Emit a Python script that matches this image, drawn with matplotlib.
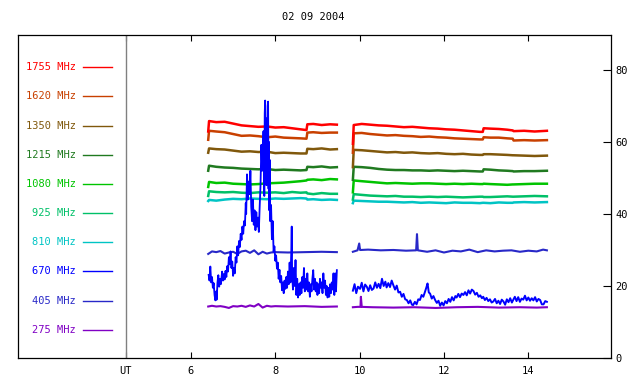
import matplotlib
matplotlib.use('Agg')
import matplotlib.pyplot as plt

plt.rcParams['font.family'] = 'DejaVu Sans Mono'
plt.rcParams['font.size'] = 7.5

# channel labels and colours (top to bottom in the key)
freqs = ['1755 MHz', '1620 MHz', '1350 MHz', '1215 MHz', '1080 MHz',
         '925 MHz', '810 MHz', '670 MHz', '405 MHz', '275 MHz']
colors = ['#ff0000', '#c84000', '#80580c', '#207a20', '#00c400',
          '#00c068', '#00c4c4', '#0000ff', '#2828c8', '#8000c4']

# UT hours, two observing blocks
t_left = [6.41, 6.43, 6.6, 6.8, 7.0, 7.2, 7.4, 7.6, 7.8, 8.0, 8.2, 8.4, 8.6,
          8.74, 8.76, 8.9, 9.1, 9.3, 9.46]
t_right = [9.84, 9.86, 10.05, 10.25, 10.45, 10.65, 10.85, 11.05, 11.25, 11.45,
           11.65, 11.85, 12.05, 12.25, 12.45, 12.65, 12.85, 12.92, 12.94, 13.1,
           13.3, 13.5, 13.63, 13.65, 13.9, 14.15, 14.44]

f1755_l = [62.9, 65.8, 65.5, 65.6, 65.1, 64.6, 64.4, 64.2, 64.3, 64.0, 64.1, 63.8, 63.5, 63.3, 64.9, 65.0, 64.7, 64.9, 64.8]
f1620_l = [60.6, 63.1, 62.9, 62.7, 62.2, 61.7, 61.8, 61.6, 61.3, 61.5, 61.2, 61.1, 61.0, 60.9, 62.6, 62.7, 62.5, 62.6, 62.6]
f1350_l = [57.0, 58.2, 58.0, 57.9, 57.6, 57.3, 57.4, 57.2, 57.3, 56.9, 57.0, 56.9, 56.8, 56.8, 58.1, 58.0, 58.2, 57.9, 58.0]
f1215_l = [52.0, 53.4, 53.1, 52.9, 52.8, 52.6, 52.5, 52.4, 52.5, 52.2, 52.3, 52.2, 52.1, 52.2, 53.1, 53.0, 53.2, 52.9, 53.0]
f1080_l = [47.5, 48.9, 48.6, 48.7, 48.4, 48.3, 48.2, 48.3, 48.5, 48.6, 48.7, 48.9, 49.1, 49.3, 49.5, 49.6, 49.4, 49.7, 49.6]
f925_l = [45.0, 46.3, 46.1, 46.0, 46.1, 45.9, 45.8, 46.0, 45.9, 46.0, 45.8, 46.1, 45.9, 46.0, 45.7, 45.5, 45.8, 45.6, 45.6]
f810_l = [43.6, 43.9, 43.7, 44.0, 44.2, 44.1, 44.3, 44.2, 44.1, 44.3, 44.2, 44.3, 44.4, 44.3, 44.0, 44.1, 43.9, 44.0, 43.9]

f1755_r = [59.5, 64.7, 65.0, 64.8, 64.6, 64.5, 64.3, 64.1, 64.2, 64.0, 63.8, 63.7, 63.5, 63.4, 63.2, 63.0, 62.8, 62.8, 63.8, 63.7, 63.6, 63.4, 63.2, 63.0, 63.1, 62.9, 63.1]
f1620_r = [57.0, 62.4, 62.5, 62.2, 62.0, 61.8, 61.9, 61.7, 61.6, 61.4, 61.5, 61.3, 61.2, 61.0, 60.9, 60.8, 60.7, 60.7, 61.3, 61.2, 61.2, 61.0, 60.9, 60.4, 60.5, 60.4, 60.5]
f1350_r = [53.0, 57.8, 57.7, 57.5, 57.3, 57.1, 57.2, 57.0, 57.1, 56.9, 56.8, 56.9, 56.7, 56.6, 56.7, 56.5, 56.4, 56.4, 56.6, 56.6, 56.5, 56.4, 56.3, 56.3, 56.2, 56.1, 56.2]
f1215_r = [49.5, 53.1, 53.0, 52.8, 52.5, 52.3, 52.2, 52.2, 52.1, 52.1, 52.0, 52.1, 52.0, 51.9, 52.0, 51.9, 51.8, 51.8, 52.4, 52.3, 52.1, 52.0, 51.9, 51.8, 51.9, 51.9, 52.0]
f1080_r = [46.0, 49.3, 49.1, 48.9, 48.7, 48.5, 48.6, 48.5, 48.4, 48.5, 48.5, 48.4, 48.3, 48.4, 48.3, 48.4, 48.3, 48.3, 48.4, 48.3, 48.2, 48.1, 48.2, 48.2, 48.3, 48.4, 48.4]
f925_r = [44.0, 45.5, 45.3, 45.1, 45.0, 44.9, 45.0, 44.8, 44.8, 44.7, 44.8, 44.7, 44.8, 44.7, 44.6, 44.7, 44.8, 44.8, 44.7, 44.7, 44.8, 44.9, 44.8, 44.8, 44.9, 45.0, 44.9]
f810_r = [43.0, 43.7, 43.6, 43.5, 43.4, 43.4, 43.3, 43.2, 43.3, 43.1, 43.2, 43.1, 43.0, 43.2, 43.1, 43.1, 43.0, 43.1, 43.1, 43.0, 43.2, 43.1, 43.1, 43.2, 43.3, 43.2, 43.3]

# 405 / 275 MHz
t_low_l = [6.41, 6.5, 6.6, 6.7, 6.8, 6.9, 7.0, 7.1, 7.2, 7.3, 7.4, 7.5, 7.6, 7.7,
           7.8, 7.9, 8.0, 8.3, 8.7, 9.1, 9.46]
f405_l = [28.9, 29.6, 29.4, 29.7, 29.0, 29.3, 29.5, 28.9, 29.6, 29.8, 29.2, 29.9,
          28.8, 29.5, 29.0, 29.3, 29.4, 29.3, 29.4, 29.5, 29.4]
f275_l = [14.3, 14.5, 14.3, 14.4, 14.2, 13.9, 14.4, 14.3, 14.5, 14.2, 14.6, 14.3,
          15.0, 14.0, 14.5, 14.3, 14.4, 14.3, 14.4, 14.2, 14.3]

t405_r = [9.84, 9.95, 9.99, 10.01, 10.03, 10.2, 10.5, 10.8, 11.1, 11.34, 11.36, 11.38,
          11.6, 11.8, 12.0, 12.2, 12.4, 12.6, 12.8, 13.0, 13.2, 13.4, 13.6, 13.8,
          14.0, 14.2, 14.35, 14.44]
f405_r = [29.5, 29.9, 31.8, 30.0, 30.0, 30.1, 29.9, 30.0, 29.8, 29.9, 34.4, 29.9,
          29.5, 29.9, 29.3, 29.8, 29.6, 30.1, 29.4, 29.9, 29.6, 29.8, 29.9, 29.5,
          29.8, 29.6, 30.1, 29.9]
t275_r = [9.84, 9.95, 10.02, 10.03, 10.05, 10.3, 10.8, 11.3, 11.8, 12.3, 12.8, 13.3,
          13.8, 14.2, 14.44]
f275_r = [14.1, 14.2, 14.2, 17.0, 14.2, 14.1, 14.0, 14.1, 13.9, 14.1, 14.2, 14.0,
          14.1, 14.0, 14.1]

# 670 MHz burst
t670_l = [6.42, 6.44, 6.46, 6.48, 6.50, 6.52, 6.54, 6.56, 6.58, 6.60, 6.61, 6.63,
          6.65, 6.67, 6.69, 6.71, 6.74, 6.76, 6.78, 6.80, 6.82, 6.84, 6.86, 6.88,
          6.90, 6.92, 6.94, 6.96, 6.98, 7.00, 7.02, 7.04, 7.06, 7.08, 7.10, 7.12,
          7.14, 7.16, 7.18, 7.20, 7.22, 7.24, 7.26, 7.28, 7.30, 7.31, 7.33, 7.35,
          7.37, 7.39, 7.41, 7.43, 7.45, 7.47, 7.49, 7.51, 7.53, 7.55, 7.57, 7.59,
          7.61, 7.63, 7.65, 7.67, 7.69, 7.71, 7.72, 7.74, 7.75, 7.76, 7.77, 7.78,
          7.79, 7.80, 7.81, 7.82, 7.83, 7.84, 7.85, 7.86, 7.87, 7.88, 7.90, 7.92,
          7.94, 7.96, 7.98, 8.00, 8.02, 8.04, 8.06, 8.08, 8.10, 8.12, 8.14, 8.16,
          8.18, 8.20, 8.22, 8.24, 8.26, 8.28, 8.30, 8.32, 8.34, 8.36, 8.38, 8.39,
          8.40, 8.42, 8.44, 8.46, 8.48, 8.50, 8.52, 8.54, 8.56, 8.58, 8.60, 8.62,
          8.64, 8.66, 8.68, 8.70, 8.72, 8.74, 8.76, 8.78, 8.80, 8.82, 8.84, 8.86,
          8.88, 8.90, 8.92, 8.94, 8.96, 8.98, 9.00, 9.02, 9.04, 9.06, 9.08, 9.10,
          9.12, 9.14, 9.16, 9.18, 9.20, 9.22, 9.24, 9.26, 9.28, 9.30, 9.32, 9.34,
          9.36, 9.38, 9.40, 9.42, 9.44, 9.46]
f670_l = [23.1, 21.5, 25.4, 21.0, 22.5, 19.5, 20.8, 17.5, 16.0, 18.5, 16.2, 21.0,
          23.0, 19.8, 22.0, 20.5, 24.0, 21.5, 23.3, 21.8, 24.2, 22.5, 25.5, 24.0,
          28.0, 26.0, 29.6, 25.0, 26.8, 22.8, 25.0, 23.5, 28.0, 26.5, 31.0, 28.5,
          32.5, 30.8, 34.5, 32.8, 36.5, 34.5, 38.0, 36.8, 43.0, 40.0, 51.0, 44.0,
          49.0, 45.5, 52.0, 42.0, 38.0, 44.0, 37.0, 41.0, 35.5, 40.5, 36.5, 39.0,
          35.0, 42.0, 48.0, 59.2, 52.0, 58.5, 63.0, 45.0, 68.0, 71.5, 55.0, 66.6,
          48.0, 64.0, 52.0, 70.0, 71.2, 47.0, 60.0, 41.0, 55.0, 38.0, 42.5, 33.0,
          38.0, 29.5, 31.0, 27.0, 28.5, 24.8, 26.5, 22.0, 24.5, 21.0, 22.8, 18.8,
          21.0, 18.0, 21.5, 19.2, 22.5, 19.5, 24.0, 20.5, 26.5, 21.0, 30.0, 36.5,
          23.0, 19.0, 25.0, 20.0, 27.2, 17.5, 22.0, 16.8, 20.5, 17.5, 21.0, 18.0,
          22.5, 19.5, 25.0, 18.5, 22.0, 19.0, 23.5, 18.5, 21.0, 17.0, 20.5, 18.5,
          22.0, 24.4, 19.0, 22.0, 18.5, 21.0, 17.5, 20.5, 18.0, 22.0, 19.5, 21.0,
          18.0, 23.5, 19.5, 21.5, 17.5, 20.0, 16.8, 19.5, 17.0, 20.5, 18.0, 21.0,
          19.0, 23.5, 17.5, 23.5, 18.5, 24.4]

t670_r = [9.84, 9.88, 9.92, 9.96, 10.01, 10.05, 10.09, 10.13, 10.17, 10.21, 10.25,
          10.29, 10.33, 10.37, 10.41, 10.45, 10.49, 10.53, 10.57, 10.61, 10.64, 10.68,
          10.72, 10.76, 10.80, 10.84, 10.88, 10.92, 10.96, 11.00, 11.04, 11.08, 11.12,
          11.16, 11.20, 11.24, 11.27, 11.31, 11.35, 11.39, 11.43, 11.47, 11.51, 11.55,
          11.58, 11.61, 11.64, 11.67, 11.71, 11.75, 11.79, 11.83, 11.87, 11.91, 11.95,
          11.99, 12.03, 12.07, 12.11, 12.15, 12.19, 12.23, 12.27, 12.30, 12.34, 12.38,
          12.42, 12.46, 12.50, 12.54, 12.58, 12.62, 12.66, 12.70, 12.74, 12.78, 12.82,
          12.86, 12.90, 12.93, 12.97, 13.01, 13.05, 13.09, 13.13, 13.17, 13.21, 13.25,
          13.29, 13.33, 13.37, 13.41, 13.45, 13.49, 13.53, 13.57, 13.61, 13.64, 13.68,
          13.72, 13.76, 13.80, 13.84, 13.88, 13.92, 13.96, 14.00, 14.04, 14.08, 14.12,
          14.16, 14.20, 14.24, 14.28, 14.32, 14.36, 14.40, 14.44]
f670_r = [18.7, 20.5, 18.0, 19.8, 19.2, 20.9, 18.5, 20.4, 19.8, 18.6, 20.2,
          18.9, 19.3, 21.0, 19.5, 20.6, 19.4, 22.0, 20.0, 21.2, 19.6, 20.8,
          19.7, 21.5, 20.2, 19.0, 20.1, 18.2, 18.4, 17.0, 17.8, 16.3, 16.1,
          15.2, 16.0, 14.8, 14.7, 15.6, 14.9, 16.3, 16.1, 17.5, 17.0, 18.4,
          19.5, 20.7, 18.2, 17.9, 16.5, 17.2, 16.1, 15.3, 15.9, 14.5, 15.4,
          14.6, 15.8, 15.2, 16.4, 15.6, 16.9, 16.0, 17.2, 16.8, 17.8, 16.9,
          17.9, 17.5, 18.3, 17.4, 18.8, 17.9, 19.0, 18.6, 17.6, 18.1, 17.0,
          17.4, 16.6, 17.0, 16.1, 16.7, 15.8, 16.3, 15.4, 15.7, 16.4, 15.2,
          15.9, 15.0, 16.2, 15.7, 14.8, 16.3, 15.5, 16.6, 15.4, 16.1, 17.0,
          15.8, 16.9, 15.6, 16.5, 16.2, 17.3, 16.0, 16.8, 15.9, 16.6, 16.0,
          16.9, 15.7, 16.4, 16.1, 14.9, 14.9, 15.8, 15.6]

ut_hour = 4.457

fig = plt.figure(figsize=(6.4, 3.84), dpi=100)
ax = fig.add_axes([18 / 640, 26 / 384, 593 / 640, 323 / 384])

lw = 1.8
ax.plot(t_low_l, f275_l, color=colors[9], lw=1.5)
ax.plot(t275_r, f275_r, color=colors[9], lw=1.5)
ax.plot(t_low_l, f405_l, color=colors[8], lw=1.5)
ax.plot(t405_r, f405_r, color=colors[8], lw=1.5)

left = [f1755_l, f1620_l, f1350_l, f1215_l, f1080_l, f925_l, f810_l]
right = [f1755_r, f1620_r, f1350_r, f1215_r, f1080_r, f925_r, f810_r]
for i in range(6, -1, -1):
    ax.plot(t_left, left[i], color=colors[i], lw=lw)
    ax.plot(t_right, right[i], color=colors[i], lw=lw)

ax.plot(t670_l, f670_l, color=colors[7], lw=1.3)
ax.plot(t670_r, f670_r, color=colors[7], lw=1.4)

# key on the left
for i, (name, c) in enumerate(zip(freqs, colors)):
    y = 80.75 - 8.1 * i
    ax.text(3.28, y, name, color=c, ha='right', va='center')
    ax.plot([3.45, 4.135], [y, y], color=c, lw=1)

ax.axvline(ut_hour, color='#808080', lw=1)

ax.set_xlim(1.9, 15.96)
ax.set_ylim(0, 89.7)
ax.set_xticks([ut_hour, 6, 8, 10, 12, 14])
ax.set_xticklabels(['UT', '6', '8', '10', '12', '14'])
ax.tick_params(axis='x', direction='in', top=True, bottom=True, length=4,
               width=0.8, pad=5.5)
ax.yaxis.tick_right()
ax.set_yticks([0, 20, 40, 60, 80])
ax.tick_params(axis='y', direction='in', left=False, right=True, length=5.5,
               width=0.8, pad=3)
for s in ax.spines.values():
    s.set_linewidth(0.9)

fig.text(313 / 640, 1 - 17.5 / 384, '02 09 2004', ha='center', va='center')

fig.savefig('out.png', dpi=100)
